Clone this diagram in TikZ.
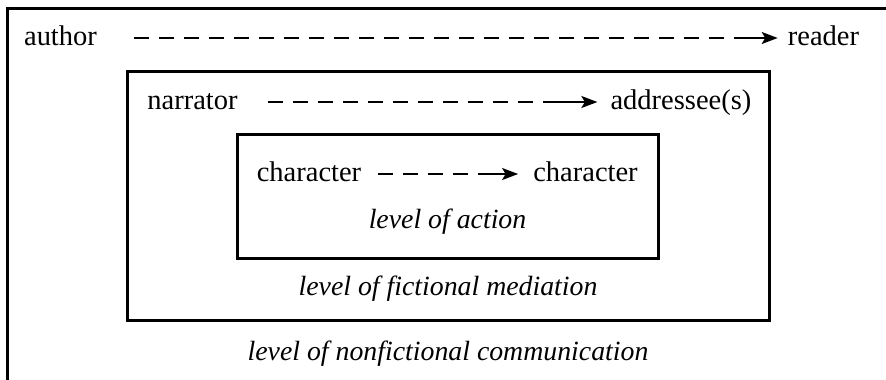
\documentclass[tikz,border=0pt]{standalone}
\usepackage{fontspec}
\setmainfont{Liberation Serif}
\usetikzlibrary{arrows.meta,calc}
\begin{document}
\begin{tikzpicture}[x=1pt,y=-1pt,
  txt/.style={inner sep=0pt, anchor=base, font=\fontsize{28.5}{34}\selectfont},
  lvl/.style={inner sep=0pt, anchor=base, font=\fontsize{27.8}{34}\selectfont\itshape},
  frame/.style={draw, line width=3pt, inner sep=0pt},
  dashseg/.style={line width=2pt, dash pattern=on 15pt off 10pt},
  solidarr/.style={line width=2pt, -{Stealth[length=16pt,width=12pt,inset=3.5pt]}}]
\useasboundingbox (0,0) rectangle (886,380);
% outer frame (clipped by the page)
\draw[line width=3pt] (7,382) -- (7,8) -- (888,8);
% boxes
\node[frame, minimum width=642pt, minimum height=249pt] (mid) at (448,195.5) {};
\node[frame, minimum width=421pt, minimum height=124pt] (inner) at (447.5,196) {};
% texts
\node[txt] (author) at (60.5,45) {author};
\node[txt] (reader) at (823.5,45) {reader};
\node[txt] (narrator) at (192.5,109) {narrator};
\node[txt] (addr) at (681,109) {addressee(s)};
\node[txt] (charA) at (309,181) {character};
\node[txt] (charB) at (585.5,181) {character};
\node[lvl] (action) at (447.5,228) {level of action};
\node[lvl] (fict) at (448,295) {level of fictional mediation};
\node[lvl] (nonfict) at (448,360) {level of nonfictional communication};
% arrows
\coordinate (t0) at ($(author.base east)+(37,-7)$);
\coordinate (t1) at ($(t0)+(590,0)$);
\draw[dashseg] (t0) -- (t1);
\draw[solidarr] ($(t1)+(10,0)$) -- ($(reader.base west)+(-10,-7)$);
\coordinate (m0) at ($(narrator.base east)+(30,-7)$);
\coordinate (m1) at ($(m0)+(265,0)$);
\draw[dashseg] (m0) -- (m1);
\draw[solidarr] ($(m1)+(10,0)$) -- ($(addr.base west)+(-13,-7)$);
\coordinate (c0) at ($(charA.base east)+(17,-7)$);
\coordinate (c1) at ($(c0)+(90,0)$);
\draw[dashseg] (c0) -- (c1);
\draw[solidarr] ($(c1)+(10,0)$) -- ($(charB.base west)+(-15,-7)$);
\end{tikzpicture}
\end{document}
